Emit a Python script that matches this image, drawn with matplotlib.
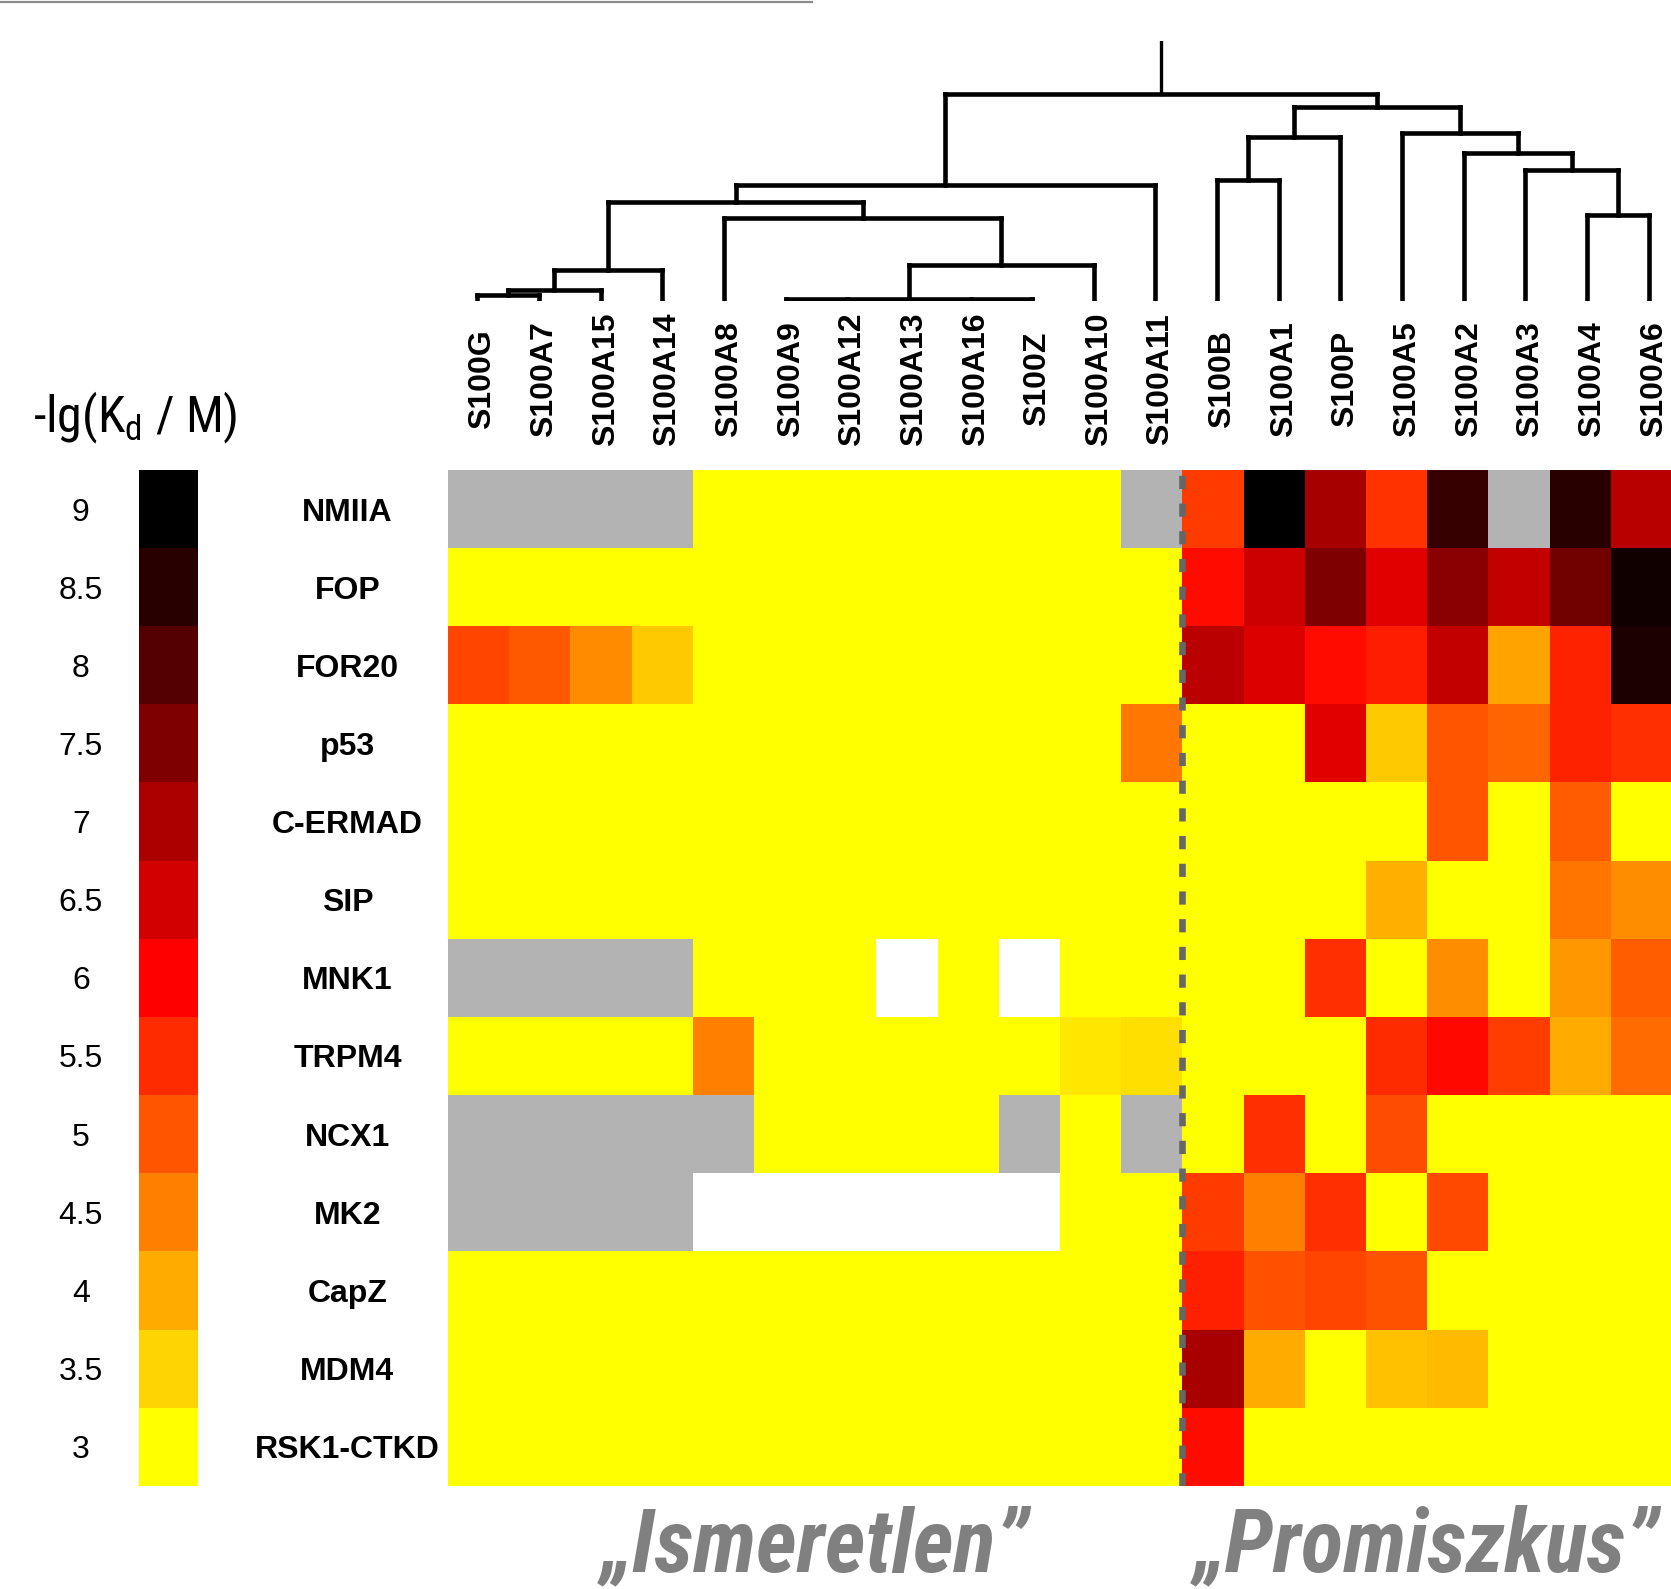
import numpy as np
import matplotlib
matplotlib.use("Agg")
import matplotlib.pyplot as plt
from matplotlib.colors import LinearSegmentedColormap, Normalize
from matplotlib.lines import Line2D
from matplotlib import font_manager

G = np.nan   # nem mért -> szürke
W = -1.0     # fehér cella

proteins = ["S100G", "S100A7", "S100A15", "S100A14", "S100A8", "S100A9",
            "S100A12", "S100A13", "S100A16", "S100Z", "S100A10", "S100A11",
            "S100B", "S100A1", "S100P", "S100A5", "S100A2", "S100A3",
            "S100A4", "S100A6"]

partners = ["NMIIA", "FOP", "FOR20", "p53", "C-ERMAD", "SIP", "MNK1",
            "TRPM4", "NCX1", "MK2", "CapZ", "MDM4", "RSK1-CTKD"]

# -lg(Kd / M), 3 = nincs kötődés
values = np.array([
    [G, G, G, G, 3, 3, 3, 3, 3, 3, 3, G,       5.32, 9.0, 7.05, 5.4, 8.36, G, 8.53, 6.84],
    [3, 3, 3, 3, 3, 3, 3, 3, 3, 3, 3, 3,       5.88, 6.6, 7.52, 6.36, 7.38, 6.72, 7.66, 8.79],
    [5.2, 4.96, 4.38, 3.65, 3, 3, 3, 3, 3, 3, 3, 3, 6.8, 6.4, 5.88, 5.65, 6.72, 4.09, 5.58, 8.65],
    [3, 3, 3, 3, 3, 3, 3, 3, 3, 3, 3, 4.6,     3, 3, 6.36, 3.65, 5.0, 4.82, 5.58, 5.44],
    [3, 3, 3, 3, 3, 3, 3, 3, 3, 3, 3, 3,       3, 3, 3, 3, 5.0, 3, 4.94, 3],
    [3, 3, 3, 3, 3, 3, 3, 3, 3, 3, 3, 3,       3, 3, 3, 3.95, 3, 3, 4.64, 4.35],
    [G, G, G, G, 3, 3, 3, W, 3, W, 3, 3,       3, 3, 5.44, 3, 4.35, 3, 4.24, 4.9],
    [3, 3, 3, 3, 4.5, 3, 3, 3, 3, 3, 3.29, 3.38, 3, 3, 3, 5.5, 5.9, 5.29, 4.0, 4.75],
    [G, G, G, G, G, 3, 3, 3, 3, G, 3, G,       3, 5.44, 3, 5.1, 3, 3, 3, 3],
    [G, G, G, G, W, W, W, W, W, W, 3, 3,       5.32, 4.5, 5.44, 3, 5.15, 3, 3, 3],
    [3, 3, 3, 3, 3, 3, 3, 3, 3, 3, 3, 3,       5.62, 5.06, 5.2, 5.03, 3, 3, 3, 3],
    [3, 3, 3, 3, 3, 3, 3, 3, 3, 3, 3, 3,       7.02, 4.0, 3, 3.74, 3.8, 3, 3, 3],
    [3, 3, 3, 3, 3, 3, 3, 3, 3, 3, 3, 3,       5.88, 3, 3, 3, 3, 3, 3, 3],
])

cbar_levels = [9, 8.5, 8, 7.5, 7, 6.5, 6, 5.5, 5, 4.5, 4, 3.5, 3]

# dendrogram: (gyerekek, magasság); int = korábbi csomópont indexe
merges = [
    (["S100G", "S100A7"], 5.2),                                  # 0
    ([0, "S100A15"], 9.9),                                       # 1
    ([1, "S100A14"], 28.6),                                      # 2
    (["S100A9", "S100A12", "S100A13", "S100A16", "S100Z"], 1.0), # 3
    ([3, "S100A10"], 33.0),                                      # 4
    (["S100A8", 4], 77.4),                                       # 5
    ([2, 5], 92.7),                                              # 6
    ([6, "S100A11"], 108.4),                                     # 7
    (["S100B", "S100A1"], 113.0),                                # 8
    ([8, "S100P"], 153.7),                                       # 9
    (["S100A4", "S100A6"], 80.2),                                # 10
    (["S100A3", 10], 122.5),                                     # 11
    (["S100A2", 11], 138.1),                                     # 12
    (["S100A5", 12], 156.9),                                     # 13
    ([9, 13], 181.9),                                            # 14
    ([7, 14], 193.5),                                            # 15
]
root_top = 243.8

groups = ["\u201eIsmeretlen\u201d", "\u201ePromiszkus\u201d"]
group_spans = [(0, 11), (12, 19)]


# keskeny betűtípus keresése, ha van
narrow_prop = None
for f in font_manager.fontManager.ttflist:
    if f.name in ("Liberation Sans Narrow", "Roboto Condensed", "Open Sans Condensed",
                  "DejaVu Sans Condensed", "Noto Sans Condensed"):
        narrow_prop = f.name
        break
if narrow_prop is None:
    for f in font_manager.fontManager.ttflist:
        if f.name == "DejaVu Sans" and str(f.stretch) in ("condensed", "semi-condensed"):
            narrow_prop = "DejaVu Sans"
            break

plt.rcParams["font.family"] = ["Liberation Sans", "DejaVu Sans"]

W_PX, H_PX = 1671, 1589
fig = plt.figure(figsize=(W_PX / 100, H_PX / 100), dpi=100)


def rect(x0, y0, x1, y1):
    # pixel box (top-left origin) -> figure fraction
    return [x0 / W_PX, 1 - y1 / H_PX, (x1 - x0) / W_PX, (y1 - y0) / H_PX]


cmap = LinearSegmentedColormap.from_list("kd", ["#ffff00", "#ff0000", "#000000"])
cmap.set_bad("#b3b3b3")
cmap.set_under("#ffffff")
norm = Normalize(vmin=3, vmax=9)

# hőtérkép
ax = fig.add_axes(rect(447.6, 470, 1671, 1485.6))
ax.imshow(np.ma.masked_invalid(values), cmap=cmap, norm=norm,
          aspect="auto", interpolation="nearest")
ax.axvline(11.5, color="#666666", lw=4.75, linestyle=(0, (2.0, 2.2)))
ax.set_axis_off()

ytr = ax.get_yaxis_transform()
for i, name in enumerate(partners):
    ax.text(-0.0819, i, name, transform=ytr, ha="center", va="center_baseline",
            fontsize=23, fontweight="bold")

if narrow_prop is not None:
    glab = dict(family=[narrow_prop, "Liberation Sans"], fontsize=63,
                fontstretch="condensed")
else:
    glab = dict(family=["Liberation Sans"], fontsize=54.5)

for label, (a, b) in zip(groups, group_spans):
    ax.annotate(label, xy=((a + b) / 2, 0), xycoords=("data", "axes fraction"),
                xytext=(0, -86), textcoords="offset pixels",
                ha="center", va="baseline", fontweight="bold",
                fontstyle="italic", color="#808080", annotation_clip=False, **glab)

# színskála
cax = fig.add_axes(rect(138.5, 470, 197.2, 1485.6))
cax.imshow(np.array(cbar_levels).reshape(-1, 1), cmap=cmap, norm=norm,
           aspect="auto", interpolation="nearest")
cax.set_axis_off()
ctr = cax.get_yaxis_transform()
for i, v in enumerate(cbar_levels):
    cax.text(-0.983, i, f"{v:g}", transform=ctr, ha="center",
             va="center_baseline", fontsize=23)

if narrow_prop is not None:
    tprop = dict(family=[narrow_prop, "Liberation Sans"], fontsize=36,
                 fontstretch="condensed")
else:
    tprop = dict(family=["Liberation Sans"], fontsize=34)
fig.text(135.5 / W_PX, 1 - 432 / H_PX, r"-lg(K$_\mathregular{d}$ / M)",
         ha="center", va="baseline", **tprop)

# dendrogram
dax = fig.add_axes(rect(446.6, 40.7, 1679.4, 300.5))
dax.set_xlim(-0.5, len(proteins) - 0.5)
dax.set_ylim(0, root_top)
dax.set_axis_off()
leaf_x = {p: i for i, p in enumerate(proteins)}
node_x, node_h = [], []


def pos(c):
    if isinstance(c, str):
        return leaf_x[c], 0.0
    return node_x[c], node_h[c]


lw = 3.3
for children, h in merges:
    xs = []
    for c in children:
        cx, ch = pos(c)
        xs.append(cx)
        dax.plot([cx, cx], [ch, h], color="black", lw=lw, solid_capstyle="projecting")
    dax.plot([min(xs), max(xs)], [h, h], color="black", lw=lw, solid_capstyle="projecting")
    node_x.append((min(xs) + max(xs)) / 2)
    node_h.append(h)
dax.plot([node_x[-1]] * 2, [node_h[-1], root_top], color="black", lw=2.4)

for i, p in enumerate(proteins):
    dax.annotate(p, xy=(i, 0), xytext=(5, -78.5), textcoords="offset pixels",
                 rotation=90, ha="center", va="center", fontsize=23,
                 fontweight="bold", annotation_clip=False)

# felső szürke vonal (kivágás maradványa)
fig.add_artist(Line2D([0, 812 / W_PX], [1 - 1.5 / H_PX] * 2, color="#8c8c8c", lw=1.6))

fig.savefig("out.png", dpi=100)
